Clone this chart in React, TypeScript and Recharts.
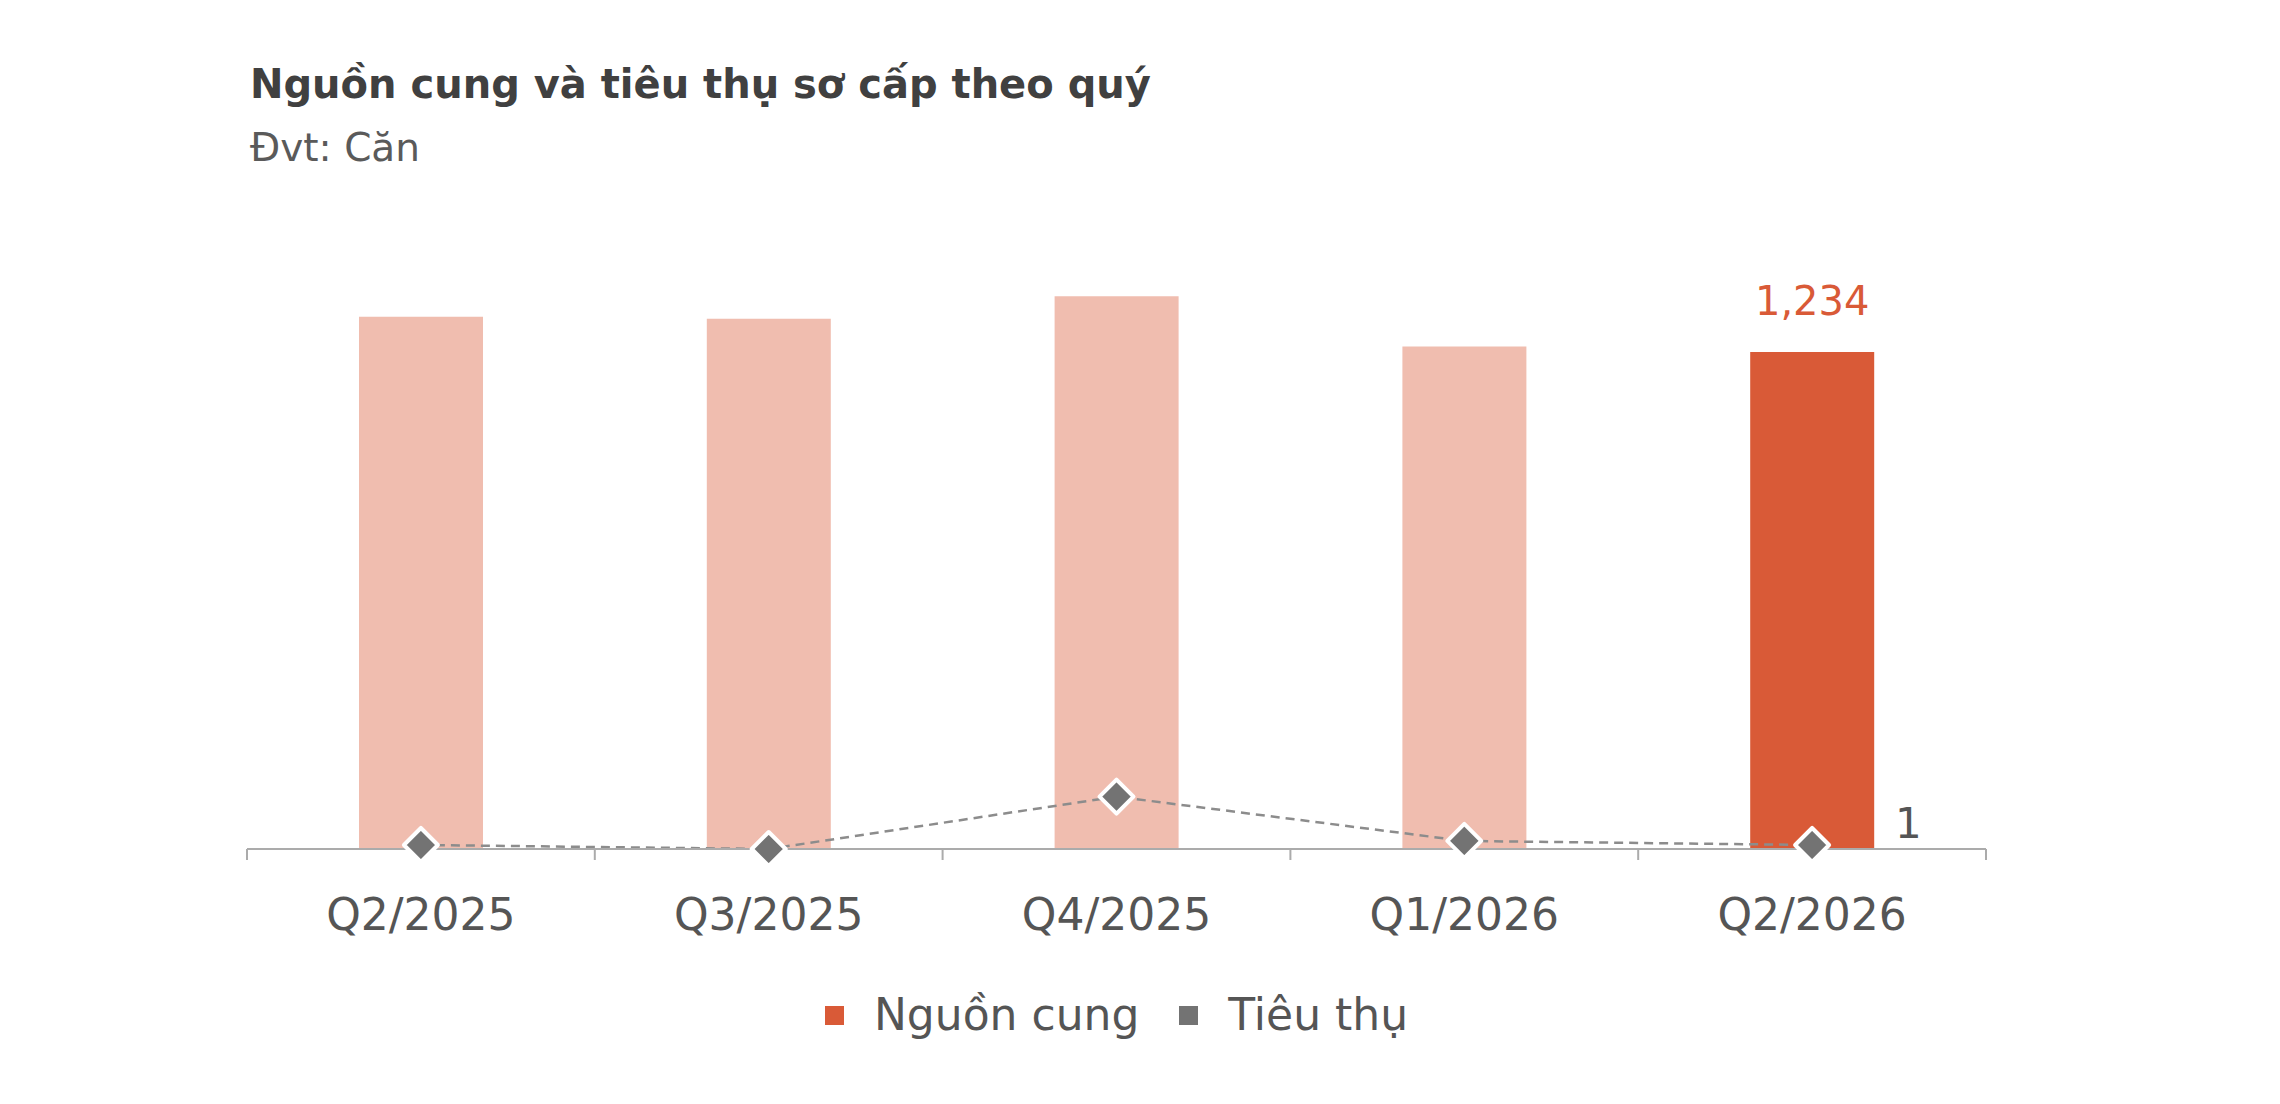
import {
    ComposedChart, Bar, Line, XAxis, YAxis, Legend, Cell, LabelList,
} from 'recharts';

const FONT = '"DejaVu Sans", sans-serif';

const QUARTERS = ['Q2/2025', 'Q3/2025', 'Q4/2025', 'Q1/2026', 'Q2/2026'];
const SUPPLY = [1322, 1317, 1373, 1248, 1234];
const SALES = [1, 0, 13, 2, 1];

const SUPPLY_LIGHT = '#f0bdaf';
const SUPPLY_DARK = '#d95a37';
const SALES_GREY = '#737373';
const AXIS_GREY = '#ababab';

const data = QUARTERS.map((q, i) => ({ quarter: q, supply: SUPPLY[i], sales: SALES[i] }));
const LAST = data.length - 1;

function Diamond(props: any) {
    const { cx, cy } = props;
    if (cx == null || cy == null) return null;
    const r = 17;
    const pts = `${cx},${cy - r} ${cx + r},${cy} ${cx},${cy + r} ${cx - r},${cy}`;
    return <polygon points={pts} fill={SALES_GREY} stroke="#fff" strokeWidth={4} strokeLinejoin="round" />;
}

// label plus the small tick marks on the category boundaries
function QuarterTick(props: any) {
    const { x, y, payload, index, width, visibleTicksCount } = props;
    const half = Number(width) / visibleTicksCount / 2;
    return (
        <g>
            <line x1={x - half} x2={x - half} y1={y} y2={y + 11} stroke={AXIS_GREY} strokeWidth={2} />
            {index === visibleTicksCount - 1 && (
                <line x1={x + half} x2={x + half} y1={y} y2={y + 11} stroke={AXIS_GREY} strokeWidth={2} />
            )}
            <text x={x} y={y + 50} dy="0.71em" textAnchor="middle" fill="#555"
                fontFamily={FONT} fontSize={44}>
                {payload.value}
            </text>
        </g>
    );
}

function SupplyLabel(props: any) {
    const { x, y, width, value, index } = props;
    if (index !== LAST) return null;
    return (
        <text x={x + width / 2} y={y - 37} textAnchor="middle" fill={SUPPLY_DARK}
            fontFamily={FONT} fontSize={40}>
            {value.toLocaleString('en-US')}
        </text>
    );
}

function SalesLabel(props: any) {
    const { x, y, value, index } = props;
    if (index !== LAST) return null;
    return (
        <text x={x + 83} y={y - 7} textAnchor="start" fill="#555"
            fontFamily={FONT} fontSize={42}>
            {value}
        </text>
    );
}

function LegendBox() {
    const items = [
        { name: 'Nguồn cung', color: SUPPLY_DARK },
        { name: 'Tiêu thụ', color: SALES_GREY },
    ];
    return (
        <div style={{ display: 'flex', justifyContent: 'center', alignItems: 'center', gap: 40 }}>
            {items.map((it) => (
                <div key={it.name} style={{ display: 'flex', alignItems: 'center' }}>
                    <span style={{ width: 19, height: 19, background: it.color, marginRight: 30 }} />
                    <span style={{ fontFamily: FONT, fontSize: 44, color: '#555', lineHeight: '50px' }}>
                        {it.name}
                    </span>
                </div>
            ))}
        </div>
    );
}

export default function App() {
    return (
        <div style={{ position: 'absolute', left: 0, top: 0, width: 2280, height: 1104, background: '#fff' }}>
            <div style={{
                position: 'absolute', left: 250, top: 64, fontFamily: FONT, fontSize: 40,
                fontWeight: 'bold', color: '#404040', lineHeight: '40px', whiteSpace: 'nowrap',
            }}>
                Nguồn cung và tiêu thụ sơ cấp theo quý
            </div>
            <div style={{
                position: 'absolute', left: 250, top: 128, fontFamily: FONT, fontSize: 39,
                color: '#5a5a5a', lineHeight: '39px', whiteSpace: 'nowrap',
            }}>
                Đvt: Căn
            </div>
            <ComposedChart
                width={2280}
                height={1104}
                data={data}
                margin={{ top: 245, right: 294, bottom: 155, left: 247 }}
            >
                <XAxis
                    dataKey="quarter"
                    height={100}
                    axisLine={{ stroke: AXIS_GREY, strokeWidth: 2 }}
                    tickLine={false}
                    tickSize={0}
                    tickMargin={0}
                    tick={<QuarterTick />}
                    interval={0}
                />
                <YAxis yAxisId="left" hide domain={[0, 1500]} />
                <YAxis yAxisId="right" hide orientation="right" domain={[0, 150]} />
                <Legend
                    verticalAlign="middle"
                    align="center"
                    layout="horizontal"
                    wrapperStyle={{ top: 990, left: 247, width: 1739 }}
                    content={() => <LegendBox />}
                />
                <Bar yAxisId="left" dataKey="supply" name="Nguồn cung"
                    barSize={124} isAnimationActive={false}>
                    {data.map((d, i) => (
                        <Cell key={d.quarter} fill={i === LAST ? SUPPLY_DARK : SUPPLY_LIGHT} />
                    ))}
                    <LabelList dataKey="supply" content={SupplyLabel} />
                </Bar>
                <Line yAxisId="right" dataKey="sales" name="Tiêu thụ"
                    type="linear" stroke="#8c8c8c" strokeWidth={2.5} strokeDasharray="9 6"
                    dot={<Diamond />} activeDot={false} isAnimationActive={false}>
                    <LabelList dataKey="sales" content={SalesLabel} />
                </Line>
            </ComposedChart>
        </div>
    );
}
